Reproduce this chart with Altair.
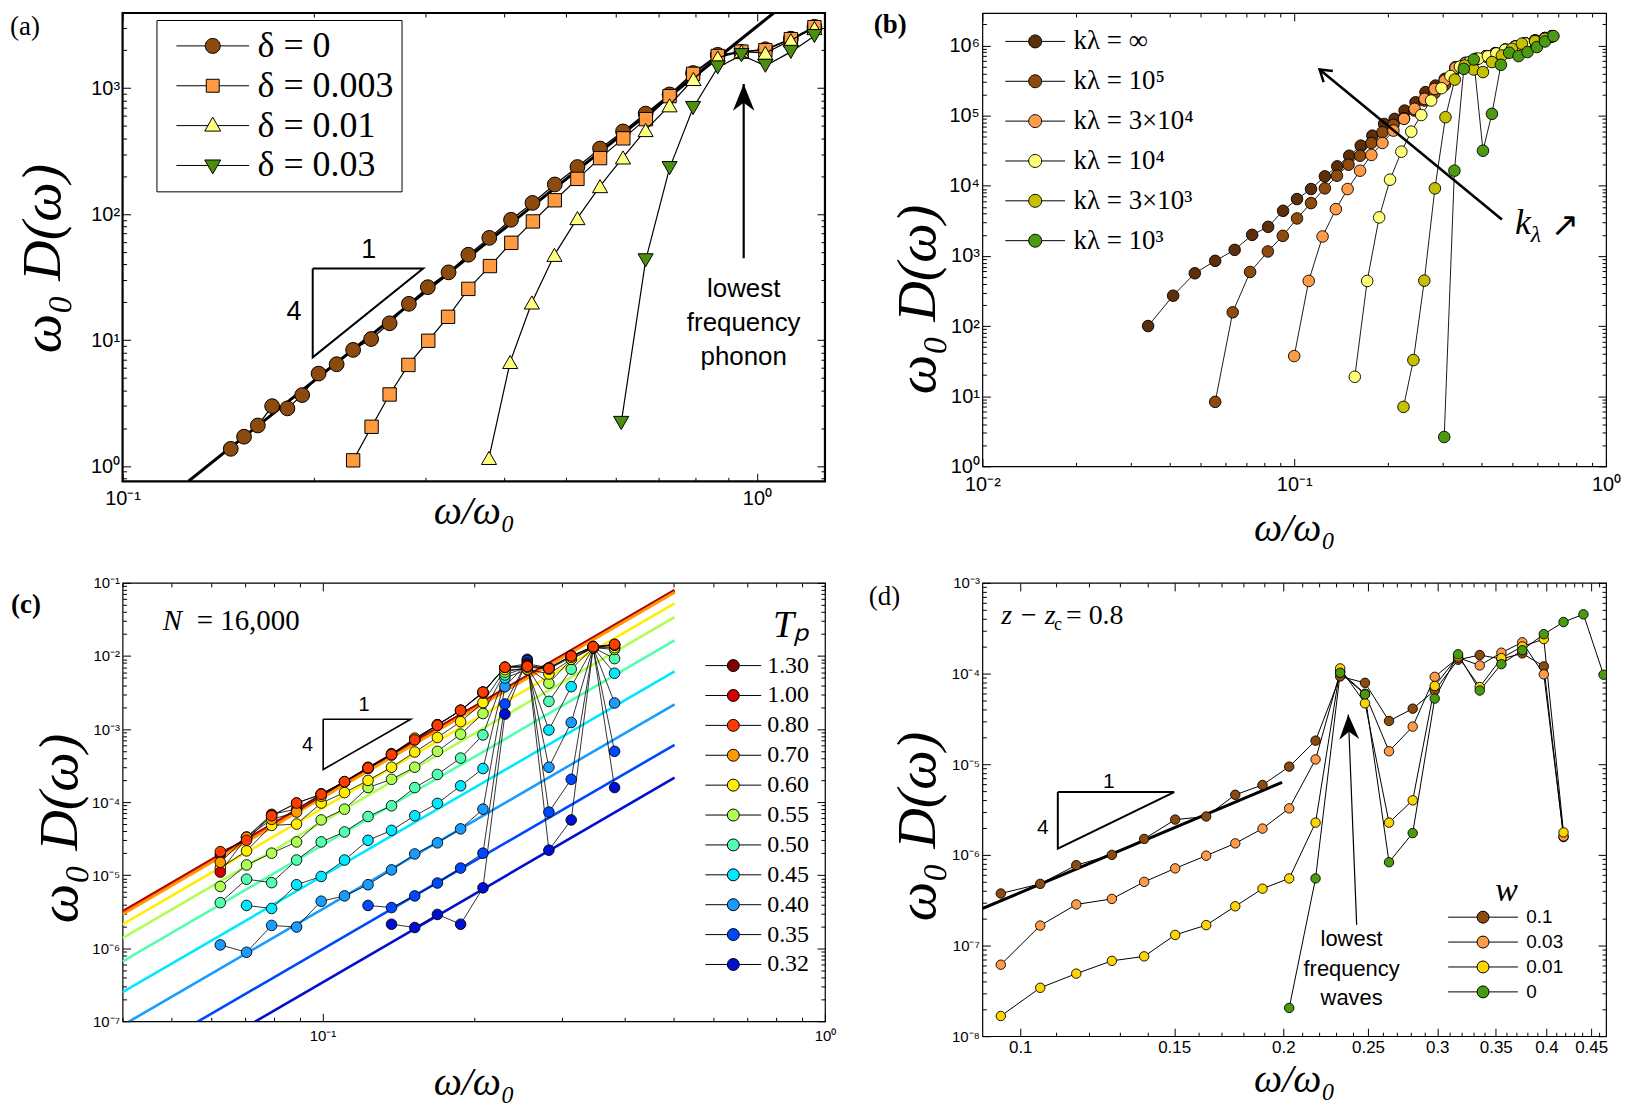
import math
import altair as alt
import pandas as pd

# ======================= DATA =======================
# ---- panel (a) ----
A_SERIES = ["δ = 0", "δ = 0.003", "δ = 0.01", "δ = 0.03"]
A_COLORS = ["#8c4a0e", "#ff9a40", "#ffff80", "#4b8f0c"]
A_X_D0 = [0.1481, 0.1554, 0.1634, 0.1721, 0.1819, 0.1919, 0.2037, 0.2175, 0.2309, 0.2465,
          0.2636, 0.2827, 0.3028, 0.3265, 0.3508, 0.3785, 0.4096, 0.4427, 0.4801, 0.5212,
          0.5658, 0.6150, 0.6676, 0.7282, 0.7931, 0.8673, 0.9452, 1.031, 1.131, 1.232]
A_Y_D0 = [1.37, 1.71, 2.10, 2.99, 2.87, 3.66, 5.42, 6.43, 8.36, 10.2,
          13.6, 19.4, 26.3, 34.5, 47.6, 64.8, 90.2, 122.7, 172, 236.6,
          331.7, 453.6, 628.3, 892, 1319, 1839, 1942, 2036, 2471, 3069]
A_X_D1 = [0.2309, 0.2469, 0.2636, 0.2822, 0.3033, 0.3259, 0.3508, 0.3794, 0.4100, 0.4434, 0.4801,
          0.5212, 0.5658, 0.6157, 0.6683, 0.7282, 0.7931, 0.8673, 0.9452, 1.031, 1.131, 1.232]
A_Y_D1 = [1.11, 2.05, 3.70, 6.35, 9.88, 15.3, 25.5, 38.7, 59.2, 87.5, 128.8,
          190.5, 278.5, 399.6, 567.7, 865, 1300, 1800, 1950, 2000, 2450, 3050]
A_X_D2 = [0.3781, 0.4083, 0.4417, 0.4795, 0.5212, 0.5658, 0.6150, 0.6676, 0.7282, 0.7940,
          0.8673, 0.9452, 1.031, 1.131, 1.232]
A_Y_D2 = [1.16, 6.7, 19.9, 47.5, 93, 166.8, 281.8, 465, 731, 1183, 1750, 1950, 1900, 2400, 3000]
A_X_D3 = [0.611, 0.6676, 0.7282, 0.7931, 0.8673, 0.9452, 1.031, 1.131, 1.232]
A_Y_D3 = [2.2, 43, 232, 696, 1462, 1828, 1507, 1941, 2594]
A_FIT_X = [0.127, 1.0624]
A_FIT_Y = [0.757, 3950]
A_TRI_X = [0.1994, 0.2977, 0.1994, 0.1994]
A_TRI_Y = [37.0, 37.0, 7.3, 37.0]
A_SLOPE_TXT = ["1", "4"]
A_SLOPE_X = [0.2444, 0.1863]
A_SLOPE_Y = [52.0, 16.8]
A_ARROW_X = [0.953, 0.953]
A_ARROW_Y = [44.6, 1081]
A_NOTE_TXT = ["lowest", "frequency", "phonon"]
A_NOTE_X = [0.953, 0.953, 0.953]
A_NOTE_Y = [25.4, 13.7, 7.35]

# ---- panel (b) ----
B_SERIES = ["kλ = ∞", "kλ = 10⁵", "kλ = 3×10⁴", "kλ = 10⁴", "kλ = 3×10³", "kλ = 10³"]
B_COLORS = ["#5c2e0a", "#8f4a0d", "#ff9a48", "#ffff7a", "#c6c000", "#4c9a12"]
B_X_INF = [0.0340, 0.0409, 0.0480, 0.0558, 0.0644, 0.0733, 0.0825, 0.0921, 0.1021, 0.1132,
           0.1254, 0.1374, 0.1501, 0.1634, 0.1781, 0.1942, 0.2099, 0.2259, 0.2449, 0.2636,
           0.2838, 0.3040, 0.3290, 0.3540, 0.3830, 0.4120, 0.4415, 0.4751, 0.5110, 0.5500,
           0.5920, 0.6370, 0.6700]
B_Y_INF = [100, 271, 565, 850, 1218, 1995, 2596, 4395, 6457, 8974,
           13600, 18900, 26800, 37300, 51800, 76000, 89700, 117800, 155000, 216000,
           268000, 334000, 491000, 566000, 646000, 706000, 778000, 877000, 968000, 1080000,
           1180000, 1280000, 1360000]
B_X_1E5 = [0.0558, 0.0635, 0.0722, 0.0823, 0.0919, 0.1021, 0.1132, 0.1254, 0.1371, 0.1494,
           0.1626, 0.1768, 0.1918, 0.2080, 0.2249, 0.2432, 0.2618, 0.2818, 0.3042, 0.3290,
           0.3540, 0.3830, 0.4120, 0.4415, 0.4751, 0.5110, 0.5500, 0.5920, 0.6370, 0.6700]
B_Y_1E5 = [8.3, 157, 590, 1156, 1930, 3420, 5660, 9180, 13900, 19950,
           26800, 40700, 57900, 73600, 91800, 118000, 164000, 209000, 275000, 470000,
           550000, 630000, 700000, 770000, 860000, 950000, 1060000, 1160000, 1260000, 1340000]
B_X_3E4 = [0.1000, 0.1113, 0.1233, 0.1360, 0.1483, 0.1626, 0.1768, 0.1918, 0.2080, 0.2249,
           0.2432, 0.2618, 0.2818, 0.3040, 0.3290, 0.3540, 0.3830, 0.4120, 0.4415, 0.4751,
           0.5110, 0.5500, 0.5920, 0.6370, 0.6700]
B_Y_3E4 = [37.3, 440, 1892, 4640, 8970, 16400, 27500, 40700, 61100, 89800,
           125000, 173000, 240000, 316000, 480000, 560000, 640000, 700000, 770000, 870000,
           960000, 1070000, 1170000, 1270000, 1350000]
B_X_1E4 = [0.1564, 0.1714, 0.1872, 0.2029, 0.2206, 0.2373, 0.2555, 0.2749, 0.2966, 0.3170,
           0.3400, 0.3650, 0.3900, 0.4180, 0.4450, 0.4751, 0.5110, 0.5500, 0.5920, 0.6370, 0.6700]
B_Y_1E4 = [18.9, 439, 3540, 12200, 30600, 59000, 102000, 164000, 246000, 366000,
           500000, 580000, 650000, 700000, 770000, 870000, 960000, 1070000, 1170000, 1270000, 1350000]
B_X_3E3 = [0.2241, 0.2411, 0.2613, 0.2826, 0.3055, 0.3273, 0.3524, 0.3764, 0.4030, 0.4305,
           0.4634, 0.4990, 0.5370, 0.5920, 0.6370]
B_Y_3E3 = [7.04, 32.7, 444, 9180, 94900, 326000, 518000, 454000, 417000, 580000,
           720000, 897000, 1060000, 1150000, 1250000]
B_X_1E3 = [0.3027, 0.3264, 0.3498, 0.3764, 0.4030, 0.4305, 0.4600, 0.4890, 0.5240, 0.5600,
           0.6000, 0.6370, 0.6780]
B_Y_1E3 = [2.62, 16400, 464000, 631000, 31600, 106000, 530000, 787000, 706000, 805000,
           948000, 1140000, 1360000]
B_ARROW_X = [0.4634, 0.1206]
B_ARROW_Y = [3300, 454000]
B_K_X = [0.5102]
B_K_Y = [2042]

# ---- panel (c) ----
C_SERIES = ["1.30", "1.00", "0.80", "0.70", "0.60", "0.55", "0.50", "0.45", "0.40", "0.35", "0.32"]
C_COLORS = ["#7f0000", "#d40000", "#ff3c00", "#ff9a00", "#ffee00", "#aeff52",
            "#52ffae", "#00e8ff", "#1a9cff", "#0048ff", "#0010d0"]
C_DRAW_ORDER = ["0.32", "0.35", "0.40", "0.45", "0.50", "0.55", "0.60", "1.30", "1.00", "0.70", "0.80"]
C_X = [0.0626, 0.0706, 0.0792, 0.0888, 0.0994, 0.1106, 0.1232, 0.1372, 0.1526, 0.1693,
       0.1883, 0.2086, 0.2307, 0.2556, 0.2822, 0.3126, 0.3457, 0.3813]
C_Y_130 = [1.9e-5, 3.3e-5, 6.8e-5, 8.0e-5, 1.3e-4, 1.9e-4, 3.0e-4, 4.6e-4, 7.3e-4, 1.15e-3,
           1.8e-3, 3.2e-3, 7.0e-3, 7.8e-3, 6.9e-3, 1.0e-2, 1.35e-2, 1.4e-2]
C_Y_100 = [1.1e-5, 3.3e-5, 6.5e-5, 9.7e-5, 1.28e-4, 1.9e-4, 2.9e-4, 4.4e-4, 7.1e-4, 1.13e-3,
           1.8e-3, 3.1e-3, 7.0e-3, 7.4e-3, 6.8e-3, 1.0e-2, 1.3e-2, 1.44e-2]
C_Y_080 = [2.1e-5, 3.0e-5, 6.5e-5, 9.7e-5, 1.28e-4, 1.9e-4, 2.94e-4, 4.46e-4, 7.1e-4, 1.13e-3,
           1.8e-3, 3.2e-3, 7.0e-3, 7.2e-3, 6.75e-3, 1.0e-2, 1.34e-2, 1.44e-2]
C_Y_070 = [1.5e-5, 3.3e-5, 5.8e-5, 7.3e-5, 1.2e-4, 1.9e-4, 2.9e-4, 4.5e-4, 7.5e-4, 1.13e-3,
           1.8e-3, 3.2e-3, 7.0e-3, 7.0e-3, 6.6e-3, 9.6e-3, 1.3e-2, 1.4e-2]
C_Y_060 = [1.25e-5, 2.15e-5, 4.8e-5, 5.0e-5, 9.7e-5, 1.35e-4, 1.98e-4, 3.0e-4, 4.85e-4, 7.66e-4,
           1.26e-3, 2.3e-3, 6.5e-3, 6.6e-3, 5.66e-3, 9.0e-3, 1.3e-2, 1.3e-2]
C_Y_055 = [7.0e-6, 1.38e-5, 2.0e-5, 2.85e-5, 5.7e-5, 8.0e-5, 1.58e-4, 2.05e-4, 3.0e-4, 4.95e-4,
           8.5e-4, 1.63e-3, 6.0e-3, 7.0e-3, 4.24e-3, 9.0e-3, 1.3e-2, 1.23e-2]
C_Y_050 = [4.2e-6, 8.8e-6, 7.9e-6, 1.61e-5, 2.85e-5, 3.9e-5, 6.35e-5, 8.9e-5, 1.58e-4, 2.39e-4,
           4.0e-4, 8.3e-4, 5.5e-3, 7.0e-3, 2.39e-3, 6.6e-3, 1.3e-2, 9.2e-3]
C_Y_045 = [None, 3.85e-6, 3.5e-6, 7.4e-6, 9.6e-6, 1.61e-5, 3.0e-5, 4.1e-5, 6.5e-5, 9.6e-5,
           1.67e-4, 2.88e-4, 5.0e-3, 6.5e-3, 9.7e-4, 3.8e-3, 1.3e-2, 5.8e-3]
C_Y_040 = [1.11e-6, 8.8e-7, 2.05e-6, 1.95e-6, 4.4e-6, 5.2e-6, 7.4e-6, 1.18e-5, 1.95e-5, 2.77e-5,
           4.3e-5, 8.0e-5, 3.8e-3, 8.0e-3, 3.0e-4, 1.23e-3, 1.3e-2, 2.27e-3]
C_Y_035 = [None, None, None, None, None, None, 3.85e-6, 3.6e-6, 5.2e-6, 7.8e-6,
           1.25e-5, 2.0e-5, 2.2e-3, 8.6e-3, 7.3e-5, 2.05e-4, 1.3e-2, 4.95e-4]
C_Y_032 = [None, None, None, None, None, None, None, 2.13e-6, 1.92e-6, 2.9e-6,
           2.13e-6, 6.7e-6, 1.6e-3, 9.0e-3, 2.2e-5, 5.7e-5, 1.3e-2, 1.58e-4]
C_FIT_X = [0.04, 0.502]
C_FIT_Y_LEFT = [3.2e-6, 3.1e-6, 3.0e-6, 2.9e-6, 2.12e-6, 1.37e-6, 6.6e-7, 2.5e-7, 8.8e-8, 2.5e-8, 8.7e-9]
C_FIT_Y_RIGHT = [0.0797, 0.077, 0.075, 0.0741, 0.0526, 0.034, 0.0163, 0.00615, 0.00218, 6.08e-4, 2.16e-4]
C_TRI_X = [0.1003, 0.1498, 0.1003, 0.1003]
C_TRI_Y = [1.36e-3, 1.36e-3, 2.79e-4, 1.36e-3]
C_SLOPE_TXT = ["1", "4"]
C_SLOPE_X = [0.121, 0.0934]
C_SLOPE_Y = [2.1e-3, 6.1e-4]
C_N_X = [0.0481]
C_N_Y = [0.023]

# ---- panel (d) ----
D_SERIES = ["0.1", "0.03", "0.01", "0"]
D_COLORS = ["#8c4a0e", "#ff9a48", "#ffd500", "#4a9a10"]
D_X = [0.0950, 0.1054, 0.1159, 0.1273, 0.1386, 0.1504, 0.1632, 0.1762, 0.1893, 0.2031, 0.2177, 0.2323,
       0.2480, 0.2642, 0.2812, 0.2980, 0.3169, 0.3355, 0.3552, 0.3753, 0.3972, 0.4184, 0.4409, 0.4649]
D_Y_W01 = [3.75e-7, 4.79e-7, 7.7e-7, 1.0e-6, 1.5e-6, 2.45e-6, 2.65e-6, 4.6e-6, 5.9e-6, 9.4e-6, 1.82e-5, 9.3e-5,
           7.9e-5, 3.0e-5, 4.1e-5, 6.5e-5, 1.42e-4, 1.6e-4, 1.45e-4, 1.67e-4, 1.2e-4, 1.57e-6, None, None]
D_Y_W003 = [6.15e-8, 1.66e-7, 2.84e-7, 3.27e-7, 5.04e-7, 7.1e-7, 9.8e-7, 1.34e-6, 1.95e-6, 3.26e-6, 1.13e-5, 1.05e-4,
            6.0e-5, 1.39e-5, 2.6e-5, 9.2e-5, 1.5e-4, 1.23e-4, 1.7e-4, 2.21e-4, 9.8e-5, 1.6e-6, None, None]
D_Y_W001 = [1.67e-8, 3.42e-8, 4.9e-8, 6.78e-8, 7.6e-8, 1.31e-7, 1.68e-7, 2.71e-7, 4.24e-7, 5.5e-7, 2.27e-6, 1.14e-4,
            4.7e-5, 2.27e-6, 4.0e-6, 7.3e-5, 1.55e-4, 7.1e-5, 1.48e-4, 1.99e-4, 2.4e-4, 1.77e-6, None, None]
D_Y_W0 = [None, None, None, None, None, None, None, None, None, 2.05e-8, 5.5e-7, 1.02e-4,
          5.9e-5, 8.3e-7, 1.74e-6, 5.3e-5, 1.63e-4, 6.5e-5, 1.27e-4, 1.81e-4, 2.72e-4, 3.7e-4, 4.5e-4, 9.7e-5]
D_FIT_X = [0.0905, 0.1993]
D_FIT_Y = [2.56e-7, 6.3e-6]
D_TRI_X = [0.1104, 0.15, 0.1104, 0.1104]
D_TRI_Y = [4.93e-6, 4.93e-6, 1.17e-6, 4.93e-6]
D_SLOPE_TXT = ["1", "4"]
D_SLOPE_X = [0.1263, 0.1061]
D_SLOPE_Y = [6.4e-6, 1.96e-6]
D_ARROW_X = [0.2426, 0.2373]
D_ARROW_Y = [1.7e-7, 3.54e-5]
D_NOTE_TXT = ["lowest", "frequency", "waves"]
D_NOTE_X = [0.2394, 0.2394, 0.2394]
D_NOTE_Y = [1.18e-7, 5.45e-8, 2.61e-8]
D_Z_X = [0.0951]
D_Z_Y = [3.52e-4]

# ======================= STYLE / GEOMETRY =======================
SERIF = "Liberation Serif"
SANS = "Liberation Sans"
W_A, H_A = 705, 470
W_B, H_B = 626, 455
W_C, H_C = 705, 440
W_D, H_D = 626, 455
A_XDOM, A_YDOM = [0.1, 1.28], [0.757, 3950]
B_XDOM, B_YDOM = [0.01, 1.0], [1.0, 2.9e6]
C_XDOM, C_YDOM = [0.04, 1.0], [1e-7, 1e-1]
D_XDOM, D_YDOM = [0.0905, 0.468], [1e-8, 1e-3]
TMAJ, TMIN = 8, 4

SUP_LABEL = ("'10' + (round(log(datum.value)/LN10) < 0 ? '⁻' : '') + "
             "['⁰','¹','²','³','⁴','⁵','⁶','⁷','⁸','⁹'][abs(round(log(datum.value)/LN10))]")
D_LABEL = "format(datum.value, '.2~f')"


def log_values(lo, hi):
    major, minor = [], []
    for e in range(int(math.floor(math.log10(lo))) - 1, int(math.ceil(math.log10(hi))) + 1):
        for m in range(1, 10):
            v = float(f"{m}e{e}")
            if lo * 0.999 <= v <= hi * 1.001:
                (major if m == 1 else minor).append(v)
    return major, minor


def f3(v):
    return f"{v:.3f}"


def circle_sym(u, W, r):
    a, rr = W / 2 / u, r / u
    return (f"M{f3(-a)},0L{f3(-rr)},0M{f3(rr)},0L{f3(a)},0M{f3(-rr)},0"
            f"A{f3(rr)},{f3(rr)},0,1,1,{f3(rr)},0A{f3(rr)},{f3(rr)},0,1,1,{f3(-rr)},0Z")


def square_sym(u, W, h):
    a, s = W / 2 / u, h / u
    return (f"M{f3(-a)},0L{f3(-s)},0M{f3(s)},0L{f3(a)},0"
            f"M{f3(-s)},{f3(-s)}L{f3(s)},{f3(-s)}L{f3(s)},{f3(s)}L{f3(-s)},{f3(s)}Z")


def tri_sym(u, W, up):
    a = W / 2 / u
    p, b, h, e = 8.5 / u, 5.5 / u, 8.0 / u, 4.9 / u
    sg = 1 if up else -1
    return (f"M{f3(-a)},0L{f3(-e)},0M{f3(e)},0L{f3(a)},0"
            f"M0,{f3(-sg * p)}L{f3(h)},{f3(sg * b)}L{f3(-h)},{f3(sg * b)}Z")


SYM_S = 12
SYM_U = SYM_S / 2
A_PATHS = [circle_sym(SYM_U, 73, 7.5), square_sym(SYM_U, 73, 6.5),
           tri_sym(SYM_U, 73, True), tri_sym(SYM_U, 73, False)]
A_SYM_EXPR = ("datum.value === '%s' ? '%s' : datum.value === '%s' ? '%s' : "
              "datum.value === '%s' ? '%s' : '%s'") % (
    A_SERIES[0], A_PATHS[0], A_SERIES[1], A_PATHS[1], A_SERIES[2], A_PATHS[2], A_PATHS[3])
HEAD = "M0,0L0.4,1L0,0.7L-0.4,1Z"
CHEVRON = "M-0.55,0.85L0,0L0.55,0.85"


def sym_legend(sym_off, lab_off, **kw):
    return alt.Legend(symbolSize=SYM_S * SYM_S, symbolOffset=sym_off, labelOffset=lab_off,
                      symbolStrokeColor="black", symbolStrokeWidth=1, symbolOpacity=1,
                      labelColor="black", labelLimit=0, **kw)


def make_axis(orient, values, size, label_expr=None, font_size=15, title=None,
              title_size=56, title_x=None, title_y=None, pad=3):
    kw = dict(orient=orient, values=values, grid=False, domain=False, offset=-size,
              tickColor="black", tickWidth=1, tickSize=size)
    if label_expr:
        kw.update(labelExpr=label_expr, labelFont=SANS, labelFontSize=font_size,
                  labelColor="black", labelFlush=False, labelOverlap=False, labelPadding=pad)
    else:
        kw.update(labels=False)
    if title:
        kw.update(title=title, titleFont=SERIF, titleFontSize=title_size, titleFontStyle="italic",
                  titleFontWeight="normal", titleColor="black", titleBaseline="alphabetic",
                  titleAlign="center")
        if title_x is not None:
            kw["titleX"] = title_x
        if title_y is not None:
            kw["titleY"] = title_y
    else:
        kw["title"] = None
    return alt.Axis(**kw)


def scales(xdom, ydom):
    return (alt.Scale(type="log", domain=xdom, nice=False),
            alt.Scale(type="log", domain=ydom, nice=False))


def frame(xs, ys, xdom, ydom, xv, yv, xlab, xfont, ylab, yfont, xt_y, yt_x, yt_y, xpad):
    df = pd.DataFrame({"x": [xdom[0] * 1.01], "y": [ydom[0] * 1.01]})
    base = alt.Chart(df).mark_point(opacity=0)
    (xmaj, xmin), (ymaj, ymin) = xv, yv
    return [
        base.encode(
            x=alt.X("x:Q", scale=xs, axis=make_axis("bottom", xmaj, TMAJ, xlab, xfont, "ω/ω₀", 40,
                                                    title_y=xt_y + TMAJ, pad=xpad)),
            y=alt.Y("y:Q", scale=ys, axis=make_axis("left", ymaj, TMAJ, ylab, yfont, "ω₀ D(ω)", 56,
                                                    title_x=yt_x - TMAJ, title_y=yt_y))),
        base.encode(x=alt.X("x:Q", scale=xs, axis=make_axis("bottom", xmin, TMIN)),
                    y=alt.Y("y:Q", scale=ys, axis=make_axis("left", ymin, TMIN))),
        base.encode(x=alt.X("x:Q", scale=xs, axis=make_axis("top", xmaj, TMAJ)),
                    y=alt.Y("y:Q", scale=ys, axis=make_axis("right", ymaj, TMAJ))),
        base.encode(x=alt.X("x:Q", scale=xs, axis=make_axis("top", xmin, TMIN)),
                    y=alt.Y("y:Q", scale=ys, axis=make_axis("right", ymin, TMIN))),
    ]


def XY(xs, ys):
    return dict(x=alt.X("x:Q", scale=xs, axis=None), y=alt.Y("y:Q", scale=ys, axis=None))


def long_df(names, xs_list, ys_list):
    rows = []
    for k, (nm, xx, yy) in enumerate(zip(names, xs_list, ys_list)):
        for i, (x, y) in enumerate(zip(xx, yy)):
            if y is None:
                continue
            rows.append({"series": nm, "x": x, "y": y, "i": i, "k": k})
    return pd.DataFrame(rows)


def poly_layer(xs, ys, px, py, width, color="black"):
    df = pd.DataFrame({"x": px, "y": py, "i": list(range(len(px)))})
    return alt.Chart(df).mark_line(color=color, strokeWidth=width, clip=True).encode(
        order="i:Q", **XY(xs, ys))


def text_layer(xs, ys, txt, px, py, **mk):
    df = pd.DataFrame({"t": txt, "x": px, "y": py})
    return alt.Chart(df).mark_text(color="black", **mk).encode(text="t:N", **XY(xs, ys))


def label_layer(txt, x, y, bold):
    df = pd.DataFrame({"t": [txt]})
    return alt.Chart(df).mark_text(font=SERIF, fontSize=27, align="left", baseline="alphabetic",
                                   fontWeight="bold" if bold else "normal", color="black").encode(
        text="t:N", x=alt.value(x), y=alt.value(y))


def pix(v, dom, size, invert=False):
    f = (math.log10(v) - math.log10(dom[0])) / (math.log10(dom[1]) - math.log10(dom[0]))
    return (1 - f) * size if invert else f * size


def arrow_angle(px_, py_, xdom, ydom, W, H):
    dx = pix(px_[1], xdom, W) - pix(px_[0], xdom, W)
    dy = pix(py_[1], ydom, H, True) - pix(py_[0], ydom, H, True)
    return math.degrees(math.atan2(dx, -dy)) % 360


def arrow_layers(xs, ys, px_, py_, xdom, ydom, W, H, width, head, head_size, filled):
    line = poly_layer(xs, ys, px_, py_, width)
    ang = arrow_angle(px_, py_, xdom, ydom, W, H)
    df = pd.DataFrame({"x": [px_[1]], "y": [py_[1]]})
    if filled:
        mk = alt.Chart(df).mark_point(shape=head, size=head_size, filled=True, color="black",
                                      opacity=1, angle=ang)
    else:
        mk = alt.Chart(df).mark_point(shape=head, size=head_size, filled=False, stroke="black",
                                      strokeWidth=2.5, opacity=1, angle=ang)
    return [line, mk.encode(**XY(xs, ys))]


def finish(layers, W, H, sw):
    return alt.layer(*layers).resolve_axis(x="independent", y="independent").properties(
        width=W, height=H, view=alt.ViewBackground(stroke="black", strokeWidth=sw))


# ======================= PANEL (a) =======================
axs, ays = scales(A_XDOM, A_YDOM)
a_layers = frame(axs, ays, A_XDOM, A_YDOM, log_values(*A_XDOM), log_values(*A_YDOM),
                 SUP_LABEL, 20, SUP_LABEL, 20, 42, -63, 246, 7)
a_layers.append(poly_layer(axs, ays, A_FIT_X, A_FIT_Y, 3))
a_shapes = ["circle", "square", "triangle-up", "triangle-down"]
a_sizes = [220, 180, 230, 230]
for nm, col, shp, sz, xx, yy in zip(A_SERIES, A_COLORS, a_shapes, a_sizes,
                                    [A_X_D0, A_X_D1, A_X_D2, A_X_D3],
                                    [A_Y_D0, A_Y_D1, A_Y_D2, A_Y_D3]):
    d = long_df([nm], [xx], [yy])
    a_layers.append(alt.Chart(d).mark_line(color="black", strokeWidth=1.2, clip=True).encode(
        order="i:Q", **XY(axs, ays)))
    a_layers.append(alt.Chart(d).mark_point(shape=shp, size=sz, filled=True, fill=col, stroke="black",
                                            strokeWidth=1, opacity=1, clip=True).encode(**XY(axs, ays)))

a_leg = sym_legend(30.5, 27, orient="none", legendX=34, legendY=7, title=None, padding=8,
                   symbolType={"expr": A_SYM_EXPR},
                   strokeColor="black", fillColor="white", labelFont=SERIF, labelFontSize=36,
                   rowPadding=4)
a_leg_df = pd.DataFrame({"series": A_SERIES, "x": [0.03] * 4, "y": [1.0] * 4})
a_layers.append(alt.Chart(a_leg_df).mark_point(filled=True, size=144, opacity=1, stroke="black",
                                               strokeWidth=1.2, clip=True).encode(
    fill=alt.Fill("series:N", scale=alt.Scale(domain=A_SERIES, range=A_COLORS), legend=a_leg),
    **XY(axs, ays)))
a_layers.append(poly_layer(axs, ays, A_TRI_X, A_TRI_Y, 2))
a_layers.append(text_layer(axs, ays, A_SLOPE_TXT, A_SLOPE_X, A_SLOPE_Y, font=SANS, fontSize=27,
                           align="center", baseline="middle"))
a_layers += arrow_layers(axs, ays, A_ARROW_X, A_ARROW_Y, A_XDOM, A_YDOM, W_A, H_A, 2.2, HEAD, 2916, True)
a_layers.append(text_layer(axs, ays, A_NOTE_TXT, A_NOTE_X, A_NOTE_Y, font=SANS, fontSize=26,
                           align="center", baseline="middle"))
a_layers.append(label_layer("(a)", -113, 22, False))
panel_a = finish(a_layers, W_A, H_A, 2.2)

# ======================= PANEL (b) =======================
bxs, bys = scales(B_XDOM, B_YDOM)
b_layers = frame(bxs, bys, B_XDOM, B_YDOM, log_values(*B_XDOM), log_values(*B_YDOM),
                 SUP_LABEL, 20, SUP_LABEL, 20, 74, -48, 287, 8)
b_df = long_df(B_SERIES, [B_X_INF, B_X_1E5, B_X_3E4, B_X_1E4, B_X_3E3, B_X_1E3],
               [B_Y_INF, B_Y_1E5, B_Y_3E4, B_Y_1E4, B_Y_3E3, B_Y_1E3])
b_layers.append(alt.Chart(b_df).mark_line(color="black", strokeWidth=0.9, clip=True).encode(
    detail="series:N", order="i:Q", **XY(bxs, bys)))
b_leg = sym_legend(13.5, 25, orient="none", legendX=26, legendY=15, title=None, padding=0,
                   symbolType=circle_sym(SYM_U, 60, 6.5), labelFont=SERIF, labelFontSize=27,
                   rowPadding=12)
b_layers.append(alt.Chart(b_df).mark_point(filled=True, size=135, stroke="black", strokeWidth=0.9,
                                           opacity=1, clip=True).encode(
    fill=alt.Fill("series:N", scale=alt.Scale(domain=B_SERIES, range=B_COLORS), legend=b_leg),
    **XY(bxs, bys)))
b_layers += arrow_layers(bxs, bys, B_ARROW_X, B_ARROW_Y, B_XDOM, B_YDOM, W_B, H_B, 2.6, CHEVRON, 700, False)
b_layers.append(text_layer(bxs, bys, ["k"], B_K_X, B_K_Y, font=SERIF, fontSize=36, fontStyle="italic",
                           align="left", baseline="alphabetic"))
b_layers.append(text_layer(bxs, bys, ["λ"], B_K_X, B_K_Y, font=SERIF, fontSize=24, fontStyle="italic",
                           align="left", baseline="alphabetic", dx=16, dy=8))
b_layers.append(text_layer(bxs, bys, ["↗"], B_K_X, B_K_Y, font="DejaVu Sans", fontSize=34,
                           align="left", baseline="alphabetic", dx=36, dy=2))
b_layers.append(label_layer("(b)", -109, 20, True))
panel_b = finish(b_layers, W_B, H_B, 1.2)

# ======================= PANEL (c) =======================
cxs, cys = scales(C_XDOM, C_YDOM)
c_layers = frame(cxs, cys, C_XDOM, C_YDOM, log_values(*C_XDOM), log_values(*C_YDOM),
                 SUP_LABEL, 15, SUP_LABEL, 15, 73, -46, 246, 7)
for nm, col, yl, yr in zip(C_SERIES, C_COLORS, C_FIT_Y_LEFT, C_FIT_Y_RIGHT):
    c_layers.append(poly_layer(cxs, cys, C_FIT_X, [yl, yr], 2.6, col))
c_df = long_df(C_SERIES, [C_X] * 11,
               [C_Y_130, C_Y_100, C_Y_080, C_Y_070, C_Y_060, C_Y_055, C_Y_050,
                C_Y_045, C_Y_040, C_Y_035, C_Y_032])
c_df["rank"] = c_df["series"].map({s: r for r, s in enumerate(C_DRAW_ORDER)})
c_df = c_df.sort_values(["rank", "i"]).reset_index(drop=True)
c_layers.append(alt.Chart(c_df).mark_line(color="black", strokeWidth=0.8, clip=True).encode(
    detail="series:N", order="i:Q", **XY(cxs, cys)))
c_leg = sym_legend(20, 22, orient="none", legendX=581, legendY=24, title="Tₚ", padding=0,
                   titleFont=SERIF, titleFontSize=38, titleFontStyle="italic", titleFontWeight="normal",
                   titleColor="black", titleAnchor="end", titlePadding=9,
                   symbolType=circle_sym(SYM_U, 56, 6), labelFont=SERIF, labelFontSize=24,
                   rowPadding=6)
c_layers.append(alt.Chart(c_df).mark_point(filled=True, size=113, stroke="black", strokeWidth=0.9,
                                           opacity=1, clip=True).encode(
    fill=alt.Fill("series:N", scale=alt.Scale(domain=C_SERIES, range=C_COLORS), legend=c_leg),
    **XY(cxs, cys)))
c_layers.append(poly_layer(cxs, cys, C_TRI_X, C_TRI_Y, 1.6))
c_layers.append(text_layer(cxs, cys, C_SLOPE_TXT, C_SLOPE_X, C_SLOPE_Y, font=SANS, fontSize=20,
                           align="center", baseline="middle"))
c_layers.append(text_layer(cxs, cys, ["N"], C_N_X, C_N_Y, font=SERIF, fontSize=29, fontStyle="italic",
                           align="left", baseline="alphabetic"))
c_layers.append(text_layer(cxs, cys, ["=  16,000"], C_N_X, C_N_Y, font=SERIF, fontSize=29,
                           align="left", baseline="alphabetic", dx=34))
c_layers.append(label_layer("(c)", -112, 30, True))
panel_c = finish(c_layers, W_C, H_C, 1.2)

# ======================= PANEL (d) =======================
dxs, dys = scales(D_XDOM, D_YDOM)
d_all = [round(0.10 + 0.01 * k, 2) for k in range(37)]
d_xmaj = [v for v in d_all if abs(v * 20 - round(v * 20)) < 1e-6]
d_xmin = [v for v in d_all if v not in d_xmaj]
d_layers = frame(dxs, dys, D_XDOM, D_YDOM, (d_xmaj, d_xmin), log_values(*D_YDOM),
                 D_LABEL, 17, SUP_LABEL, 15, 55, -48, 244, 3)
d_layers.append(poly_layer(dxs, dys, D_FIT_X, D_FIT_Y, 3))
d_df = long_df(D_SERIES, [D_X] * 4, [D_Y_W01, D_Y_W003, D_Y_W001, D_Y_W0])
d_layers.append(alt.Chart(d_df).mark_line(color="black", strokeWidth=1, clip=True).encode(
    detail="series:N", order="i:Q", **XY(dxs, dys)))
d_leg = sym_legend(23, 34, orient="none", legendX=470, legendY=292, title="w", padding=0,
                   titleFont=SERIF, titleFontSize=34, titleFontStyle="italic", titleFontWeight="normal",
                   titleColor="black", titleAnchor="middle", titlePadding=0,
                   symbolType=circle_sym(SYM_U, 70, 6), labelFont=SANS, labelFontSize=19,
                   rowPadding=5)
d_layers.append(alt.Chart(d_df).mark_point(filled=True, size=90, stroke="black", strokeWidth=0.9,
                                           opacity=1, clip=True).encode(
    fill=alt.Fill("series:N", scale=alt.Scale(domain=D_SERIES, range=D_COLORS), legend=d_leg),
    **XY(dxs, dys)))
d_layers.append(poly_layer(dxs, dys, D_TRI_X, D_TRI_Y, 2))
d_layers.append(text_layer(dxs, dys, D_SLOPE_TXT, D_SLOPE_X, D_SLOPE_Y, font=SANS, fontSize=21,
                           align="center", baseline="middle"))
d_layers += arrow_layers(dxs, dys, D_ARROW_X, D_ARROW_Y, D_XDOM, D_YDOM, W_D, H_D, 1.2, HEAD, 2500, True)
d_layers.append(text_layer(dxs, dys, D_NOTE_TXT, D_NOTE_X, D_NOTE_Y, font=SANS, fontSize=22,
                           align="center", baseline="middle"))
d_layers.append(text_layer(dxs, dys, ["z − z"], D_Z_X, D_Z_Y, font=SERIF, fontSize=28, fontStyle="italic",
                           align="left", baseline="alphabetic"))
d_layers.append(text_layer(dxs, dys, ["c"], D_Z_X, D_Z_Y, font=SERIF, fontSize=18,
                           align="left", baseline="alphabetic", dx=53, dy=6))
d_layers.append(text_layer(dxs, dys, ["= 0.8"], D_Z_X, D_Z_Y, font=SERIF, fontSize=28,
                           align="left", baseline="alphabetic", dx=65))
d_layers.append(label_layer("(d)", -114, 22, False))
panel_d = finish(d_layers, W_D, H_D, 1.2)

# ======================= ASSEMBLE =======================
chart = alt.concat(panel_a, panel_b, panel_c, panel_d, columns=2,
                   spacing=alt.RowColnumber(row=26, column=31)).resolve_scale(
    fill="independent", shape="independent").resolve_legend(
    fill="independent", shape="independent").properties(
    padding=0, background="white")

chart.save("out.html", embed_options={"renderer": "svg", "actions": False})
